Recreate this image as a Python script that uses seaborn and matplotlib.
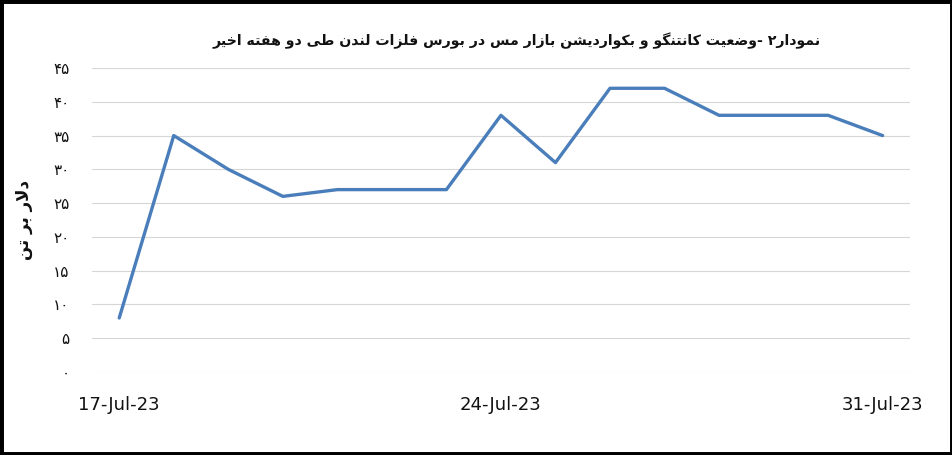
import matplotlib
matplotlib.use("Agg")
import matplotlib.pyplot as plt
import pandas as pd
import seaborn as sns
from matplotlib.patches import Rectangle

# data
dates = ["2023-07-17", "2023-07-18", "2023-07-19", "2023-07-20", "2023-07-21",
         "2023-07-22", "2023-07-23", "2023-07-24", "2023-07-25", "2023-07-26",
         "2023-07-27", "2023-07-28", "2023-07-29", "2023-07-30", "2023-07-31"]
spread = [8, 35, 30, 26, 27, 27, 27, 38, 31, 42, 42, 38, 38, 38, 35]
shown_dates = ["2023-07-17", "2023-07-24", "2023-07-31"]
y_ticks = [0, 5, 10, 15, 20, 25, 30, 35, 40, 45]

title = "نمودار۲ -وضعیت کانتنگو و بکواردیشن بازار مس در بورس فلزات لندن طی دو هفته اخیر"
y_label = "دلار بر تن"

# simple persian shaping (no arabic_reshaper available)
FORMS = {
    "ا": (0xFE8D, 0xFE8E, None, None), "آ": (0xFE81, 0xFE82, None, None),
    "ب": (0xFE8F, 0xFE90, 0xFE91, 0xFE92), "پ": (0xFB56, 0xFB57, 0xFB58, 0xFB59),
    "ت": (0xFE95, 0xFE96, 0xFE97, 0xFE98), "ث": (0xFE99, 0xFE9A, 0xFE9B, 0xFE9C),
    "ج": (0xFE9D, 0xFE9E, 0xFE9F, 0xFEA0), "چ": (0xFB7A, 0xFB7B, 0xFB7C, 0xFB7D),
    "ح": (0xFEA1, 0xFEA2, 0xFEA3, 0xFEA4), "خ": (0xFEA5, 0xFEA6, 0xFEA7, 0xFEA8),
    "د": (0xFEA9, 0xFEAA, None, None), "ذ": (0xFEAB, 0xFEAC, None, None),
    "ر": (0xFEAD, 0xFEAE, None, None), "ز": (0xFEAF, 0xFEB0, None, None),
    "ژ": (0xFB8A, 0xFB8B, None, None),
    "س": (0xFEB1, 0xFEB2, 0xFEB3, 0xFEB4), "ش": (0xFEB5, 0xFEB6, 0xFEB7, 0xFEB8),
    "ص": (0xFEB9, 0xFEBA, 0xFEBB, 0xFEBC), "ض": (0xFEBD, 0xFEBE, 0xFEBF, 0xFEC0),
    "ط": (0xFEC1, 0xFEC2, 0xFEC3, 0xFEC4), "ظ": (0xFEC5, 0xFEC6, 0xFEC7, 0xFEC8),
    "ع": (0xFEC9, 0xFECA, 0xFECB, 0xFECC), "غ": (0xFECD, 0xFECE, 0xFECF, 0xFED0),
    "ف": (0xFED1, 0xFED2, 0xFED3, 0xFED4), "ق": (0xFED5, 0xFED6, 0xFED7, 0xFED8),
    "ک": (0xFB8E, 0xFB8F, 0xFB90, 0xFB91), "گ": (0xFB92, 0xFB93, 0xFB94, 0xFB95),
    "ل": (0xFEDD, 0xFEDE, 0xFEDF, 0xFEE0), "م": (0xFEE1, 0xFEE2, 0xFEE3, 0xFEE4),
    "ن": (0xFEE5, 0xFEE6, 0xFEE7, 0xFEE8), "ه": (0xFEE9, 0xFEEA, 0xFEEB, 0xFEEC),
    "و": (0xFEED, 0xFEEE, None, None), "ی": (0xFBFC, 0xFBFD, 0xFBFE, 0xFBFF),
}


def joins_next(ch):
    return ch in FORMS and FORMS[ch][2] is not None


def shape(text):
    out = []
    i = 0
    while i < len(text):
        c = text[i]
        if c not in FORMS:
            out.append(c)
            i += 1
            continue
        prev = text[i - 1] if i > 0 else ""
        nxt = text[i + 1] if i + 1 < len(text) else ""
        jp = joins_next(prev)
        if c == "ل" and nxt == "ا":
            out.append(chr(0xFEFC if jp else 0xFEFB))
            i += 2
            continue
        jn = joins_next(c) and nxt in FORMS
        iso, fin, ini, med = FORMS[c]
        if jp and jn:
            out.append(chr(med))
        elif jp:
            out.append(chr(fin))
        elif jn:
            out.append(chr(ini))
        else:
            out.append(chr(iso))
        i += 1
    return "".join(out)[::-1]


def fa_digits(n):
    return "".join(chr(0x06F0 + int(d)) for d in str(n))


df = pd.DataFrame({"date": dates, "value": spread})

sns.set_theme(style="white")
plt.rcParams["font.family"] = ["DejaVu Sans"]

fig = plt.figure(figsize=(9.53, 4.55), dpi=100)
ax = fig.add_axes([0.0965, 0.1824, 0.8583, 0.6681])

sns.lineplot(data=df, x="date", y="value", ax=ax, color="#4a7ebb", linewidth=2.4)

ax.set_xlim(-0.5, len(dates) - 0.5)
ax.set_ylim(0, 45)
ax.set_yticks(y_ticks)
ax.set_yticklabels([fa_digits(v) for v in y_ticks], fontsize=11, color="#111111")
ax.set_xticks([dates.index(d) for d in shown_dates])
ax.set_xticklabels(pd.to_datetime(shown_dates).strftime("%d-%b-%y"),
                   fontsize=13, color="#111111")
ax.tick_params(axis="y", length=0, pad=16)
ax.tick_params(axis="x", length=0, pad=17)
ax.grid(axis="y", color="#d6d6d6", linewidth=0.8)
for s in ax.spines.values():
    s.set_visible(False)
ax.set_xlabel("")
ax.set_ylabel(shape(y_label), fontsize=12, fontweight="bold", rotation=90,
              labelpad=15, color="#111111")

fig.text(0.542, 0.91, shape(title), ha="center", va="center",
         fontsize=10.2, fontweight="bold", color="#111111")

fig.patches.append(Rectangle((0, 0), 1, 1, transform=fig.transFigure,
                             fill=False, edgecolor="black", linewidth=5))

fig.savefig("out.png", dpi=100)
